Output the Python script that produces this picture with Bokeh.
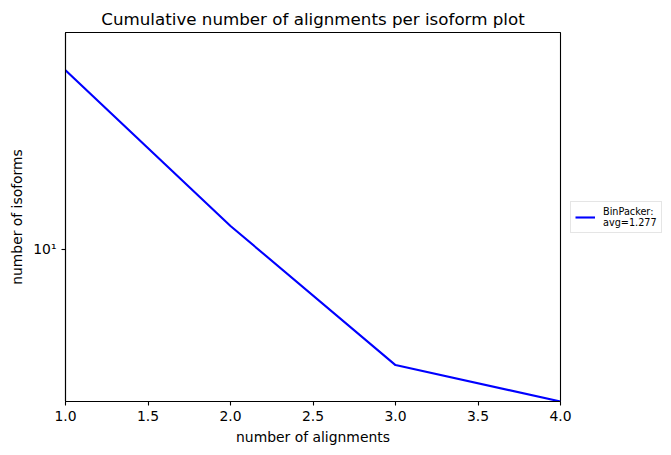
from bokeh.plotting import figure
from bokeh.models import (Range1d, FixedTicker, SingleIntervalTicker, PrintfTickFormatter,
                          Legend, LegendItem, ColumnDataSource)
from bokeh.embed import file_html
from bokeh.resources import INLINE

# data
alignments = [1, 2, 3, 4]
isoforms = [41, 12, 4, 3]
series_label = "BinPacker:\navg=1.277"
title_text = "Cumulative number of alignments per isoform plot"
x_label = "number of alignments"
y_label = "number of isoforms"
y_top = 55.3

FONT = "DejaVu Sans"

src = ColumnDataSource(dict(x=alignments, y=isoforms))

p = figure(output_backend="svg", toolbar_location=None,
           frame_width=495, frame_height=369,
           y_axis_type="log",
           x_range=Range1d(min(alignments), max(alignments)),
           y_range=Range1d(min(isoforms), y_top),
           min_border_left=65, min_border_top=32, min_border_right=0,
           min_border_bottom=10)

r = p.line("x", "y", source=src, line_color="#0000ff", line_width=2.1)

p.title.text = title_text
p.title.text_font = FONT
p.title.text_font_size = "16.7px"
p.title.text_font_style = "normal"
p.title.align = "center"
p.title.text_color = "black"
p.title.standoff = 7

p.grid.visible = False
p.outline_line_color = "black"
p.outline_line_width = 1.1
p.background_fill_color = "white"
p.border_fill_color = "white"

p.xaxis.ticker = SingleIntervalTicker(interval=0.5, num_minor_ticks=0)
p.xaxis.formatter = PrintfTickFormatter(format="%.1f")
p.yaxis.ticker = FixedTicker(ticks=[10], minor_ticks=[])
p.yaxis.major_label_overrides = {10: "10¹"}

for ax in (p.xaxis[0], p.yaxis[0]):
    ax.axis_line_color = "black"
    ax.axis_line_width = 1.1
    ax.major_tick_line_color = "black"
    ax.major_tick_line_width = 1.1
    ax.major_tick_out = 4
    ax.major_tick_in = 0
    ax.minor_tick_out = 0
    ax.minor_tick_in = 0
    ax.major_label_text_font = FONT
    ax.major_label_text_font_size = "13.9px"
    ax.major_label_text_color = "black"
    ax.major_label_standoff = 5
    ax.axis_label_text_font = FONT
    ax.axis_label_text_font_size = "13.9px"
    ax.axis_label_text_font_style = "normal"
    ax.axis_label_text_color = "black"
    ax.axis_label_standoff = 5

p.xaxis.axis_label = x_label
p.yaxis.axis_label = y_label

legend = Legend(items=[LegendItem(label=series_label, renderers=[r])],
                location="center_left", orientation="vertical",
                label_text_font=FONT, label_text_font_size="9.7px",
                label_text_color="black", label_standoff=8,
                label_text_line_height=1.3,
                glyph_width=20, glyph_height=12,
                padding=4, margin=10, spacing=0,
                border_line_color="#cccccc", border_line_width=1,
                background_fill_color="white", background_fill_alpha=0.8)
p.add_layout(legend, "right")

open("out.html", "w").write(file_html(p, INLINE))
